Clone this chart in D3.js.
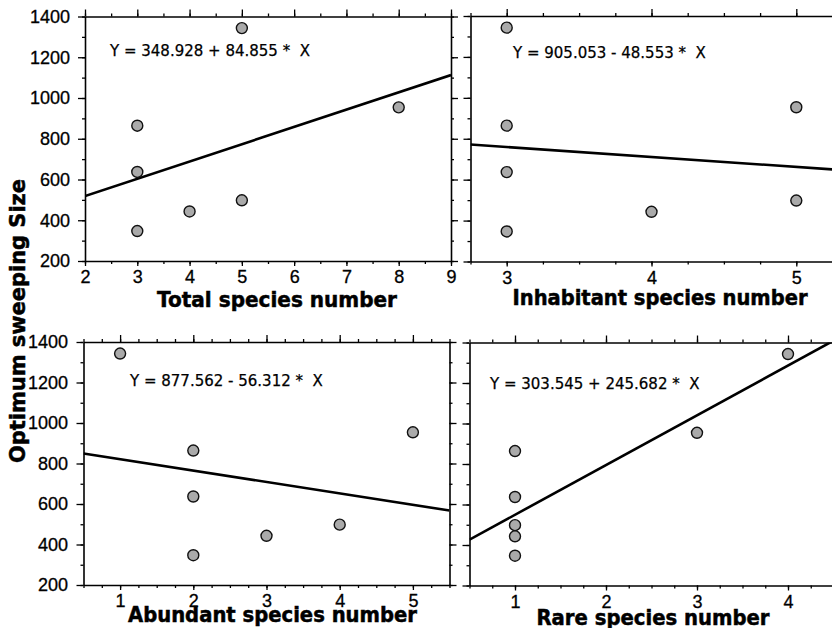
<!DOCTYPE html>
<html>
<head>
<meta charset="utf-8">
<script src="https://cdnjs.cloudflare.com/ajax/libs/d3/7.8.5/d3.min.js"></script>
<style>
  body { margin: 0; background: #fff; }
  .tick line { stroke: #000; stroke-width: 1.3px; }
  path.domain { stroke: #000; stroke-width: 1.6px; fill: none; }
  .tick text { font-family: "Liberation Sans", Arial, sans-serif; font-size: 18px; fill: #000; stroke: #000; stroke-width: 0.3px; }
  .eq { font-family: "DejaVu Sans", sans-serif; font-size: 15px; white-space: pre; fill: #000; stroke: #000; stroke-width: 0.25px; }
  .title { font-family: "DejaVu Sans", sans-serif; font-weight: bold; font-size: 20.5px; fill: #000; stroke: #000; stroke-width: 0.5px; }
</style>
</head>
<body>
<svg id="chart" width="832" height="628"></svg>
<script>
// seven sites: optimum sweeping size and species counts
const optimumSize = [1343, 954, 864, 637, 498, 443, 347];
const totalSpecies = [5, 8, 3, 3, 5, 4, 3];
const inhabitantSpecies = [3, 5, 3, 3, 5, 4, 3];
const abundantSpecies = [1, 5, 2, 2, 4, 3, 2];
const rareSpecies = [4, 3, 1, 1, 1, 1, 1];

// regression fits shown in each panel
const intercepts = [348.928, 905.053, 877.562, 303.545];
const slopes = [84.855, -48.553, -56.312, 245.682];

const xTitles = ["Total species number", "Inhabitant species number",
                 "Abundant species number", "Rare species number"];
const yTitle = "Optimum sweeping Size";
const yTickLabels = [200, 400, 600, 800, 1000, 1200, 1400];
const xTickLabels = [[2, 3, 4, 5, 6, 7, 8, 9], [3, 4, 5], [1, 2, 3, 4, 5], [1, 2, 3, 4]];

const xSeries = [totalSpecies, inhabitantSpecies, abundantSpecies, rareSpecies];

// panel placement
const layout = [
  {x0: 85, x1: 451, y0: 16.5, y1: 261, dom: [2, 9], minor: 0.5, eq: [110, 56], title: [277, 307, 240], yLab: true},
  {x0: 470.5, x1: 832.5, y0: 16, y1: 261.5, dom: [2.75, 5.25], minor: 0.25, eq: [513, 58], title: [660, 305, 295], yLab: false},
  {x0: 83.5, x1: 449.5, y0: 342, y1: 585, dom: [0.5, 5.5], minor: 0.25, eq: [130, 386], title: [272.5, 621.5, 289], yLab: true},
  {x0: 469.5, x1: 833.5, y0: 342.5, y1: 585.5, dom: [0.5, 4.5], minor: 0.25, eq: [490, 389], title: [653, 625, 233], yLab: false}
];

const svg = d3.select("#chart");

layout.forEach((p, i) => {
  const x = d3.scaleLinear().domain(p.dom).range([p.x0, p.x1]);
  const y = d3.scaleLinear().domain([200, 1400]).range([p.y1, p.y0]);
  const g = svg.append("g");

  const minorX = d3.range(Math.ceil(p.dom[0] / p.minor) * p.minor, p.dom[1] + 1e-9, p.minor);
  const minorY = d3.range(200, 1401, 100);

  // minor ticks all round
  g.append("g").attr("transform", `translate(0,${p.y1})`)
    .call(d3.axisBottom(x).tickValues(minorX).tickSize(3).tickSizeOuter(0).tickFormat(""));
  g.append("g").attr("transform", `translate(0,${p.y0})`)
    .call(d3.axisTop(x).tickValues(minorX).tickSize(3).tickSizeOuter(0).tickFormat(""));
  g.append("g").attr("transform", `translate(${p.x0},0)`)
    .call(d3.axisLeft(y).tickValues(minorY).tickSize(3).tickSizeOuter(0).tickFormat(""));
  g.append("g").attr("transform", `translate(${p.x1},0)`)
    .call(d3.axisRight(y).tickValues(minorY).tickSize(3).tickSizeOuter(0).tickFormat(""));

  // major ticks
  const bx = g.append("g").attr("transform", `translate(0,${p.y1})`)
    .call(d3.axisBottom(x).tickValues(xTickLabels[i]).tickSize(5).tickSizeOuter(0).tickPadding(3).tickFormat(d3.format("d")));
  bx.select(".domain").remove();
  bx.selectAll("text").attr("dy", null).attr("y", 22);
  g.append("g").attr("transform", `translate(0,${p.y0})`)
    .call(d3.axisTop(x).tickValues(xTickLabels[i]).tickSize(7).tickFormat(""))
    .select(".domain").remove();
  const ly = g.append("g").attr("transform", `translate(${p.x0},0)`)
    .call(d3.axisLeft(y).tickValues(yTickLabels).tickSize(7).tickPadding(8)
      .tickFormat(p.yLab ? d3.format("d") : ""));
  ly.select(".domain").remove();
  ly.selectAll("text").attr("x", i === 2 ? -15.5 : -15);
  g.append("g").attr("transform", `translate(${p.x1},0)`)
    .call(d3.axisRight(y).tickValues(yTickLabels).tickSize(7).tickFormat(""))
    .select(".domain").remove();

  // regression line, clipped to the frame
  g.append("clipPath").attr("id", "clip" + i)
    .append("rect").attr("x", p.x0).attr("y", p.y0)
    .attr("width", p.x1 - p.x0).attr("height", p.y1 - p.y0);
  const fit = p.dom.map(v => [v, intercepts[i] + slopes[i] * v]);
  g.append("path").datum(fit)
    .attr("clip-path", `url(#clip${i})`)
    .attr("d", d3.line().x(d => x(d[0])).y(d => y(d[1])))
    .attr("fill", "none").attr("stroke", "#000").attr("stroke-width", 2.6);

  // points
  g.selectAll("circle").data(optimumSize).enter()
    .append("circle")
      .attr("cx", (d, k) => x(xSeries[i][k]))
      .attr("cy", d => y(d))
      .attr("r", 5.5)
      .attr("fill", "#aaa")
      .attr("stroke", "#111")
      .attr("stroke-width", 1.4);

  // equation
  const sign = slopes[i] < 0 ? " - " : " + ";
  g.append("text").attr("class", "eq")
    .attr("x", p.eq[0]).attr("y", p.eq[1])
    .text("Y = " + intercepts[i].toFixed(3) + sign + Math.abs(slopes[i]).toFixed(3) + " *  X");

  // x title
  g.append("text").attr("class", "title")
    .attr("x", p.title[0]).attr("y", p.title[1])
    .attr("text-anchor", "middle")
    .attr("textLength", p.title[2]).attr("lengthAdjust", "spacingAndGlyphs")
    .text(xTitles[i]);
});

svg.append("text").attr("class", "title")
  .attr("transform", "translate(25,321) rotate(-90)")
  .attr("text-anchor", "middle")
  .attr("textLength", 284).attr("lengthAdjust", "spacingAndGlyphs")
  .text(yTitle);
</script>
</body>
</html>
